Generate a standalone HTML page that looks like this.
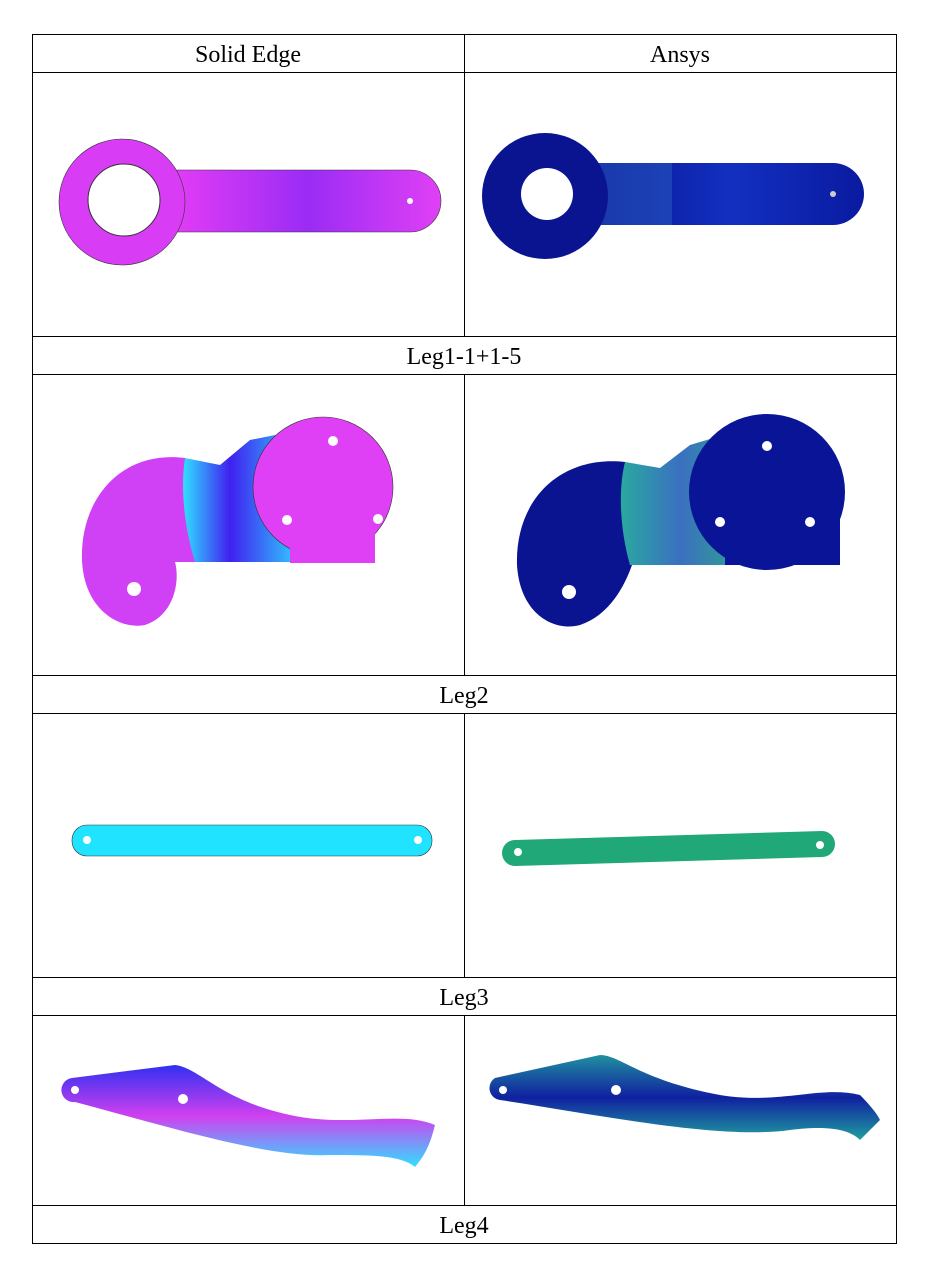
<!DOCTYPE html>
<html><head><meta charset="utf-8"><style>
body{margin:0;background:#fff;width:929px;height:1269px;position:relative;font-family:"Liberation Serif",serif;}
svg{position:absolute;left:0;top:0}
</style></head><body>
<svg width="929" height="1269">
<defs>
<linearGradient id="mag" x1="0" x2="1"><stop offset="0" stop-color="#e23cf5"/><stop offset="0.5" stop-color="#9a2cf5"/><stop offset="1" stop-color="#e040f5"/></linearGradient>
<linearGradient id="blu" x1="0" x2="1"><stop offset="0" stop-color="#0a1496"/><stop offset="0.5" stop-color="#1230c0"/><stop offset="1" stop-color="#0a1aa0"/></linearGradient>
<linearGradient id="mid1" x1="0" x2="1"><stop offset="0" stop-color="#30e0ff"/><stop offset="0.4" stop-color="#4020f0"/><stop offset="1" stop-color="#30d0ff"/></linearGradient>
<linearGradient id="mid2" x1="0" x2="1"><stop offset="0" stop-color="#2aa8a0"/><stop offset="0.5" stop-color="#3a70c0"/><stop offset="1" stop-color="#30a090"/></linearGradient>
<linearGradient id="l4a" x1="0" y1="0" x2="0" y2="1"><stop offset="0" stop-color="#3030f0"/><stop offset="0.5" stop-color="#d040f0"/><stop offset="1" stop-color="#30e0ff"/></linearGradient>
<linearGradient id="l4b" x1="0" y1="0" x2="0" y2="1"><stop offset="0" stop-color="#2090a0"/><stop offset="0.5" stop-color="#1020a0"/><stop offset="1" stop-color="#20a0a0"/></linearGradient>
</defs>
<g stroke="#000" stroke-width="1" fill="none">
<rect x="32.5" y="34.5" width="864" height="1209"/>
<line x1="464.5" y1="34" x2="464.5" y2="336"/>
<line x1="464.5" y1="374" x2="464.5" y2="675"/>
<line x1="464.5" y1="713" x2="464.5" y2="977"/>
<line x1="464.5" y1="1015" x2="464.5" y2="1205"/>
<line x1="32" y1="72.5" x2="896" y2="72.5"/>
<line x1="32" y1="336.5" x2="896" y2="336.5"/>
<line x1="32" y1="374.5" x2="896" y2="374.5"/>
<line x1="32" y1="675.5" x2="896" y2="675.5"/>
<line x1="32" y1="713.5" x2="896" y2="713.5"/>
<line x1="32" y1="977.5" x2="896" y2="977.5"/>
<line x1="32" y1="1015.5" x2="896" y2="1015.5"/>
<line x1="32" y1="1205.5" x2="896" y2="1205.5"/>
</g>
<g font-size="24" text-anchor="middle" fill="#000">
<text x="248" y="62">Solid Edge</text>
<text x="680" y="62">Ansys</text>
<text x="464" y="364">Leg1-1+1-5</text>
<text x="464" y="703">Leg2</text>
<text x="464" y="1005">Leg3</text>
<text x="464" y="1233">Leg4</text>
</g>
<!-- Leg1 -->
<g>
<path d="M175,170 L410,170 A31,31 0 0 1 410,232 L175,232 Z" fill="url(#mag)" stroke="#333" stroke-width="0.6"/>
<circle cx="122" cy="202" r="63" fill="#d83cf5" stroke="#333" stroke-width="0.6"/>
<circle cx="124" cy="200" r="36" fill="#fff" stroke="#333"/>
<circle cx="410" cy="201" r="3" fill="#fff"/>
</g>
<g>
<path d="M598,163 L833,163 A31,31 0 0 1 833,225 L598,225 Z" fill="url(#blu)"/>
<path d="M598,163 L672,163 L672,225 L598,225Z" fill="#2a60c0" opacity="0.5"/>
<circle cx="545" cy="196" r="63" fill="#0a1490"/>
<circle cx="547" cy="194" r="26" fill="#fff"/>
<circle cx="833" cy="194" r="3" fill="#ccc"/>
</g>
<!-- Leg2 -->
<g>
<path d="M185,458 C120,450 80,500 82,560 C84,610 120,630 145,625 C175,615 180,580 175,562 L250,562 Z" fill="#d040f5"/>
<path d="M185,458 L220,465 L250,440 L300,430 L300,562 L195,562 C185,530 180,490 185,458Z" fill="url(#mid1)"/>
<circle cx="323" cy="487" r="70" fill="#e040f5" stroke="#333" stroke-width="0.6"/>
<rect x="290" y="487" width="85" height="76" fill="#e040f5"/>
<circle cx="134" cy="589" r="7" fill="#fff"/>
<circle cx="333" cy="441" r="5" fill="#fff"/>
<circle cx="287" cy="520" r="5" fill="#fff"/>
<circle cx="378" cy="519" r="5" fill="#fff"/>
</g>
<g>
<path d="M625,462 C560,455 515,500 517,565 C520,615 555,632 580,625 C610,615 625,585 632,565 L700,565 Z" fill="#0a1490"/>
<path d="M625,462 L660,468 L690,445 L740,430 L740,565 L630,565 C620,530 618,490 625,462Z" fill="url(#mid2)"/>
<circle cx="767" cy="492" r="78" fill="#0a1496"/>
<rect x="725" y="492" width="115" height="73" fill="#0a1496"/>
<circle cx="569" cy="592" r="7" fill="#fff"/>
<circle cx="767" cy="446" r="5" fill="#fff"/>
<circle cx="720" cy="522" r="5" fill="#fff"/>
<circle cx="810" cy="522" r="5" fill="#fff"/>
</g>
<!-- Leg3 -->
<g>
<rect x="72" y="825" width="360" height="31" rx="15" fill="#20e4ff" stroke="#333" stroke-width="0.6"/>
<circle cx="87" cy="840" r="4" fill="#fff"/><circle cx="418" cy="840" r="4" fill="#fff"/>
</g>
<g>
<path d="M515,840 L822,831 A13,13 0 0 1 822,857 L515,866 A13,13 0 0 1 515,840Z" fill="#20a878"/>
<circle cx="518" cy="852" r="4" fill="#fff"/><circle cx="820" cy="845" r="4" fill="#fff"/>
</g>
<!-- Leg4 -->
<g>
<path d="M72,1078 L175,1065 C200,1068 220,1100 290,1115 C350,1128 400,1110 435,1125 C430,1145 425,1155 415,1167 C400,1155 370,1155 330,1155 C270,1158 180,1130 75,1102 A12,12 0 0 1 72,1078Z" fill="url(#l4a)"/>
<circle cx="75" cy="1090" r="4" fill="#fff"/><circle cx="183" cy="1099" r="5" fill="#fff"/>
</g>
<g>
<path d="M495,1078 L600,1055 C620,1055 640,1080 720,1095 C780,1105 820,1085 860,1095 C870,1105 878,1115 880,1120 L860,1140 C850,1130 830,1125 790,1130 C720,1140 600,1115 500,1100 A12,12 0 0 1 495,1078Z" fill="url(#l4b)"/>
<circle cx="503" cy="1090" r="4" fill="#fff"/><circle cx="616" cy="1090" r="5" fill="#fff"/>
</g>
</svg>
</body></html>
